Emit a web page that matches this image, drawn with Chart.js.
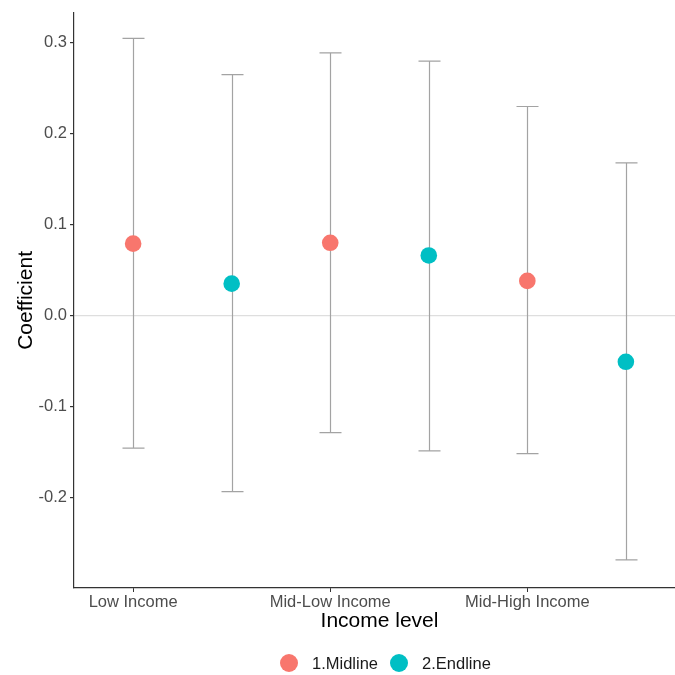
<!DOCTYPE html>
<html>
<head>
<meta charset="utf-8">
<script src="https://cdn.jsdelivr.net/npm/chart.js@4.4.1/dist/chart.umd.min.js"></script>
<style>
  html, body { margin: 0; padding: 0; background: #fff; overflow: hidden; }
  #wrap { position: relative; width: 675px; height: 675px; overflow: hidden; }
  #c { position: absolute; left: 0; top: 0; }
  #legend {
    position: absolute; left: 280px; top: 652px; height: 22px;
    display: flex; align-items: center;
    font-family: 'Liberation Sans', Arial, sans-serif; font-size: 16.5px; color: #1a1a1a;
  }
  .leg-item { display: flex; align-items: center; margin-right: 12px; }
  .leg-dot { width: 18px; height: 18px; border-radius: 50%; margin-right: 14px; }
</style>
</head>
<body>
<div id="wrap">
  <canvas id="c" width="685" height="675"></canvas>
  <div id="legend"></div>
</div>
<script>
// ── Data ──────────────────────────────────────────
const categories = ['Low Income', 'Mid-Low Income', 'Mid-High Income'];
const midlineX = [1, 3, 5];
const endlineX = [2, 4, 6];
const midlineCoef = [0.079, 0.080, 0.038];
const midlineLow = [-0.146, -0.129, -0.152];
const midlineHigh = [0.305, 0.289, 0.230];
const endlineCoef = [0.035, 0.066, -0.051];
const endlineLow = [-0.194, -0.149, -0.269];
const endlineHigh = [0.265, 0.280, 0.168];
const yTicks = [-0.2, -0.1, 0.0, 0.1, 0.2, 0.3];

const RED = '#F8766D';
const TEAL = '#00BFC4';
const FONT = "'Liberation Sans', Arial, sans-serif";

// ── Error bars drawn through the scales ───────────
const errorBars = {
  id: 'errorBars',
  beforeDatasetsDraw(chart) {
    const { ctx, scales: { x, y } } = chart;
    const cap = 11;
    const draw = (xs, lo, hi) => {
      xs.forEach((xv, i) => {
        const px = Math.round(x.getPixelForValue(xv)) + 0.5;
        const top = y.getPixelForValue(hi[i]);
        const bot = y.getPixelForValue(lo[i]);
        ctx.beginPath();
        ctx.moveTo(px, top); ctx.lineTo(px, bot);
        ctx.moveTo(px - cap, top); ctx.lineTo(px + cap, top);
        ctx.moveTo(px - cap, bot); ctx.lineTo(px + cap, bot);
        ctx.stroke();
      });
    };
    ctx.save();
    ctx.strokeStyle = '#a3a3a3';
    ctx.lineWidth = 1.2;
    draw(midlineX, midlineLow, midlineHigh);
    draw(endlineX, endlineLow, endlineHigh);
    ctx.restore();
  },
};

const toPoints = (xs, ys) => xs.map((xv, i) => ({ x: xv, y: ys[i] }));

const chart = new Chart(document.getElementById('c').getContext('2d'), {
  type: 'scatter',
  data: {
    datasets: [
      {
        label: '1.Midline',
        data: toPoints(midlineX, midlineCoef),
        backgroundColor: RED,
        borderColor: RED,
        pointRadius: 8.3,
        pointBorderWidth: 0,
      },
      {
        label: '2.Endline',
        data: toPoints(endlineX, endlineCoef),
        backgroundColor: TEAL,
        borderColor: TEAL,
        pointRadius: 8.3,
        pointBorderWidth: 0,
      },
    ],
  },
  options: {
    responsive: false,
    animation: false,
    layout: { autoPadding: false, padding: { left: 0, right: 0, top: 10, bottom: 39 } },
    plugins: {
      tooltip: { enabled: false },
      legend: { display: false },
    },
    scales: {
      x: {
        type: 'linear',
        min: 0.4,
        max: 6.6,
        afterBuildTicks: (s) => { s.ticks = midlineX.map((v) => ({ value: v })); },
        afterFit: (s) => { s.height = 48; },
        ticks: {
          callback: (v) => categories[midlineX.indexOf(v)],
          color: '#4d4d4d',
          padding: 1,
          maxRotation: 0,
          font: { family: FONT, size: 16.5 },
        },
        grid: { drawOnChartArea: false, tickLength: 4, tickColor: '#333' },
        border: { display: true, color: '#333', width: 1.2 },
        title: {
          display: true,
          text: 'Income level',
          color: '#000',
          padding: { top: 0, bottom: 2 },
          font: { family: FONT, size: 21 },
        },
      },
      y: {
        min: -0.300,
        max: 0.333,
        afterBuildTicks: (s) => { s.ticks = yTicks.map((v) => ({ value: v })); },
        afterFit: (s) => { s.width = 74; },
        ticks: {
          callback: (v) => v.toFixed(1),
          color: '#4d4d4d',
          padding: 3,
          font: { family: FONT, size: 16.5 },
        },
        grid: {
          color: (c) => (c.tick && Math.abs(c.tick.value) < 1e-9 ? '#dedede' : 'rgba(0,0,0,0)'),
          lineWidth: 1.2,
          tickLength: 4,
          tickColor: '#333',
        },
        border: { display: true, color: '#333', width: 1.2 },
        title: {
          display: true,
          text: 'Coefficient',
          color: '#000',
          padding: { top: 14, bottom: 0 },
          font: { family: FONT, size: 21 },
        },
      },
    },
  },
  plugins: [errorBars],
});

// ── Legend (HTML, built from the datasets) ────────
document.getElementById('legend').innerHTML = chart.data.datasets.map((d) => `
  <div class="leg-item"><span class="leg-dot" style="background:${d.backgroundColor}"></span>${d.label}</div>
`).join('');
</script>
</body>
</html>
